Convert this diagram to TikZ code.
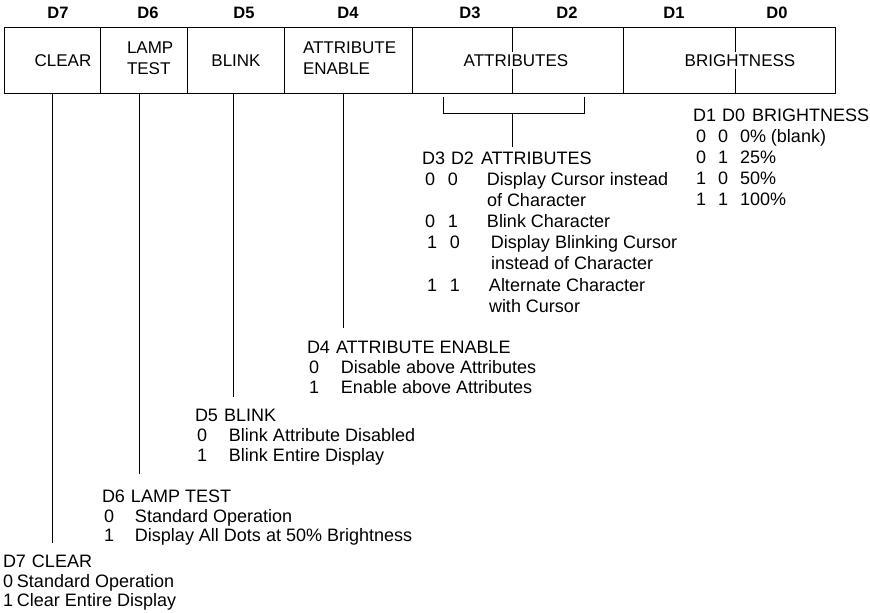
\documentclass[tikz,border=0pt]{standalone}
\usepackage{fontspec}
\setmainfont{Liberation Sans}
\begin{document}
\begin{tikzpicture}[x=1pt,y=-1pt,
  every node/.style={inner sep=0pt, outer sep=0pt, font=\fontsize{18}{21}\selectfont},
  cell/.style={draw, line width=0.9pt, minimum height=66pt},
  hdr/.style={font=\fontsize{16.5}{20}\selectfont\bfseries},
  boxtxt/.style={font=\fontsize{17}{21}\selectfont},
  txt/.style={anchor=base west},
  wire/.style={line width=1pt}]
\useasboundingbox (0,0) rectangle (870,613);

% header bit labels
\node[hdr] (h7) at (58,13) {D7};
\node[hdr] (h6) at (148,13) {D6};
\node[hdr] (h5) at (244,13) {D5};
\node[hdr] (h4) at (348,13) {D4};
\node[hdr] (h3) at (470,13) {D3};
\node[hdr] (h2) at (567,13) {D2};
\node[hdr] (h1) at (674,13) {D1};
\node[hdr] (h0) at (777,13) {D0};

% register cells
\node[cell, minimum width=96pt]  (cclear)  at (52,60) {};
\node[cell, minimum width=87pt]  (clamp)   at (143.5,60) {};
\node[cell, minimum width=97pt]  (cblink)  at (235.5,60) {};
\node[cell, minimum width=128pt] (caen)    at (348,60) {};
\node[cell, minimum width=211pt] (cattr)   at (517.5,60) {};
\node[cell, minimum width=212pt] (cbright) at (729,60) {};

\node[boxtxt] (tclear) at (63,61) {CLEAR};
\node[boxtxt, anchor=west, align=left] (tlamp) at (127,58) {LAMP\\TEST};
\node[boxtxt] (tblink) at (236,61) {BLINK};
\node[boxtxt, anchor=west, align=left] (taen) at (303,58) {ATTRIBUTE\\ENABLE};
\node[boxtxt] (tattr) at (516,61) {ATTRIBUTES};
\node[boxtxt] (tbright) at (740,61) {BRIGHTNESS};

% partial bit ticks
\draw[line width=0.9pt] (cattr.north -| 512,0) -- (512,52) (512,69) -- (cattr.south -| 512,0);
\draw[line width=0.9pt] (cbright.north -| 735,0) -- (735,52) (735,69) -- (cbright.south -| 735,0);

% attribute bracket
\coordinate (bl) at (443,97);
\coordinate (br) at (584,97);
\coordinate (bm) at (512,113);
\coordinate (bend) at (512,147);
\draw[wire] (bl) -- (bl |- bm) -- (br |- bm) -- (br);
\draw[wire] (bm) -- (bend);

% drop lines
\coordinate (e7) at (52,543);
\coordinate (e6) at (139,474);
\coordinate (e5) at (233,397);
\coordinate (e4) at (343,328);
\draw[wire] (cclear.south -| e7) -- (e7);
\draw[wire] (clamp.south -| e6) -- (e6);
\draw[wire] (cblink.south -| e5) -- (e5);
\draw[wire] (caen.south -| e4) -- (e4);

% brightness table
\node[txt] (b0) at (693,121) {D1\hspace{6pt}D0\hspace{7pt}BRIGHTNESS};
\node[txt] (b1) at (693,142) {\makebox[25pt][l]{\hspace{3pt}0}\makebox[22pt][l]{0}0\% (blank)};
\node[txt] (b2) at (693,163) {\makebox[25pt][l]{\hspace{3pt}0}\makebox[22pt][l]{1}25\%};
\node[txt] (b3) at (693,184) {\makebox[25pt][l]{\hspace{3pt}1}\makebox[22pt][l]{0}50\%};
\node[txt] (b4) at (693,205) {\makebox[25pt][l]{\hspace{3pt}1}\makebox[22pt][l]{1}100\%};

% attributes table
\node[txt] (a0) at (422,164) {D3\hspace{6pt}D2\hspace{7pt}ATTRIBUTES};
\node[txt] (a1) at (422,185) {\makebox[26pt][l]{\hspace{3pt}0}\makebox[39pt][l]{0}Display Cursor instead};
\node[txt] (a2) at (422,206) {\hspace{65pt}of Character};
\node[txt] (a3) at (422,227) {\makebox[26pt][l]{\hspace{3pt}0}\makebox[39pt][l]{1}Blink Character};
\node[txt] (a4) at (422,248) {\makebox[28pt][l]{\hspace{5pt}1}\makebox[41pt][l]{0}Display Blinking Cursor};
\node[txt] (a5) at (422,269) {\hspace{69pt}instead of Character};
\node[txt] (a6) at (422,291) {\makebox[28pt][l]{\hspace{5pt}1}\makebox[39pt][l]{1}Alternate Character};
\node[txt] (a7) at (422,312) {\hspace{67pt}with Cursor};

% D4 block
\node[txt] (d40) at (307,353) {D4\hspace{6pt}ATTRIBUTE ENABLE};
\node[txt] (d41) at (307,373) {\makebox[34pt][l]{\hspace{2pt}0}Disable above Attributes};
\node[txt] (d42) at (307,393) {\makebox[34pt][l]{\hspace{2pt}1}Enable above Attributes};

% D5 block
\node[txt] (d50) at (195,421) {D5\hspace{6pt}BLINK};
\node[txt] (d51) at (195,441) {\makebox[34pt][l]{\hspace{2pt}0}Blink Attribute Disabled};
\node[txt] (d52) at (195,461) {\makebox[34pt][l]{\hspace{2pt}1}Blink Entire Display};

% D6 block
\node[txt] (d60) at (102,502) {D6\hspace{6pt}LAMP TEST};
\node[txt] (d61) at (102,522) {\makebox[33pt][l]{\hspace{2pt}0}Standard Operation};
\node[txt] (d62) at (102,541) {\makebox[33pt][l]{\hspace{2pt}1}Display All Dots at 50\% Brightness};

% D7 block
\node[txt] (d70) at (3,567) {D7\hspace{6pt}CLEAR};
\node[txt] (d71) at (3,587) {\makebox[14pt][l]{0}Standard Operation};
\node[txt] (d72) at (3,606) {\makebox[14pt][l]{1}Clear Entire Display};
\end{tikzpicture}
\end{document}
